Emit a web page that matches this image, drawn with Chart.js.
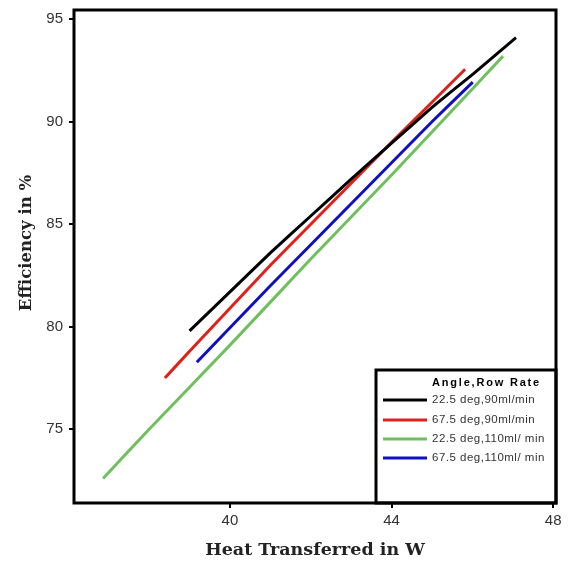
<!DOCTYPE html>
<html>
<head>
<meta charset="utf-8">
<script src="https://cdn.jsdelivr.net/npm/chart.js@4.4.0/dist/chart.umd.min.js"></script>
<style>
  html, body { margin: 0; padding: 0; background: #fff; }
  #wrap { width: 568px; height: 561px; position: relative; }
</style>
</head>
<body>
<div id="wrap"><canvas id="chart" width="568" height="561"></canvas></div>
<script>
// values
var seriesNames = ["22.5 deg,90ml/min", "67.5 deg,90ml/min", "22.5 deg,110ml/ min", "67.5 deg,110ml/ min"];
var seriesColors = ["#000000", "#e0201b", "#6fbf5f", "#1010c0"];

var blackX = [39.0, 40.0, 41.0, 42.0, 43.0, 44.0, 45.0, 46.0, 47.08];
var blackY = [79.8, 81.7, 83.6, 85.4, 87.2, 88.95, 90.7, 92.3, 94.1];

var redX = [38.39, 39.0, 40.0, 41.0, 42.0, 43.0, 44.0, 45.0, 45.82];
var redY = [77.5, 78.8, 80.9, 83.0, 85.0, 87.0, 89.0, 90.95, 92.56];

var greenX = [36.86, 38.0, 40.0, 42.0, 44.0, 46.0, 46.76];
var greenY = [72.6, 75.0, 79.1, 83.3, 87.4, 91.6, 93.2];

var blueX = [39.18, 40.0, 41.0, 42.0, 43.0, 44.0, 45.0, 46.01];
var blueY = [78.27, 79.95, 82.0, 84.0, 86.0, 88.0, 90.0, 91.93];

var xTicks = [40, 44, 48];
var yTicks = [75, 80, 85, 90, 95];

function pts(xs, ys) {
  var out = [];
  for (var i = 0; i < xs.length; i++) out.push({x: xs[i], y: ys[i]});
  return out;
}

var allX = [blackX, redX, greenX, blueX];
var allY = [blackY, redY, greenY, blueY];
var datasets = [];
for (var i = 0; i < seriesNames.length; i++) {
  datasets.push({
    label: seriesNames[i],
    data: pts(allX[i], allY[i]),
    borderColor: seriesColors[i],
    backgroundColor: seriesColors[i],
    borderWidth: 3,
    pointRadius: 0,
    tension: 0.1,
    fill: false
  });
}

// box around the plot, the legend inside it and the y title
var boxPlugin = {
  id: 'boxPlugin',
  afterDraw: function(chart) {
    var ctx = chart.ctx;
    var a = chart.chartArea;
    ctx.save();
    // legend
    var lx = 376, ly = 370, lw = a.right - 376, lh = a.bottom - 370;
    ctx.fillStyle = '#fff';
    ctx.fillRect(lx, ly, lw, lh);
    ctx.strokeStyle = '#000';
    ctx.lineWidth = 3;
    ctx.strokeRect(lx, ly, lw, lh);
    ctx.fillStyle = '#000';
    ctx.font = 'bold 11px "Liberation Sans", Arial, sans-serif';
    ctx.textBaseline = 'middle';
    ctx.textAlign = 'left';
    ctx.letterSpacing = '1.8px';
    ctx.fillText('Angle,Row Rate', 432, 383);
    ctx.letterSpacing = '0.5px';
    ctx.font = '11.5px "Liberation Sans", Arial, sans-serif';
    var rows = [400, 420, 439, 458];
    for (var i = 0; i < seriesNames.length; i++) {
      ctx.strokeStyle = seriesColors[i];
      ctx.lineWidth = 3;
      ctx.beginPath();
      ctx.moveTo(383, rows[i]);
      ctx.lineTo(427, rows[i]);
      ctx.stroke();
      ctx.fillStyle = '#333';
      ctx.fillText(seriesNames[i], 432, rows[i]);
    }
    ctx.letterSpacing = '0px';
    // plot frame
    ctx.strokeStyle = '#000';
    ctx.lineWidth = 3;
    ctx.strokeRect(a.left, a.top, a.right - a.left, a.bottom - a.top);
    // y axis title
    ctx.translate(27, 243);
    ctx.rotate(-Math.PI / 2);
    ctx.textAlign = 'center';
    ctx.textBaseline = 'middle';
    ctx.fillStyle = '#222';
    ctx.font = 'bold 16.5px "DejaVu Serif", "Liberation Serif", serif';
    ctx.fillText('Efficiency in %', 0, 0);
    ctx.restore();
  }
};

var ctx = document.getElementById('chart').getContext('2d');
var myChart = new Chart(ctx, {
  type: 'line',
  data: { datasets: datasets },
  options: {
    responsive: false,
    animation: false,
    layout: { padding: { top: 10, right: 12, left: 18, bottom: 0 } },
    plugins: {
      legend: { display: false },
      tooltip: { enabled: false }
    },
    scales: {
      x: {
        type: 'linear',
        min: 36.14,
        max: 48.07,
        afterBuildTicks: function(s) { s.ticks = xTicks.map(function(v) { return {value: v}; }); },
        afterFit: function(s) { s.height = 58; },
        grid: { drawOnChartArea: false, tickLength: 5, color: '#000', lineWidth: 2 },
        border: { display: false },
        ticks: { color: '#333', font: { size: 15, family: '"Liberation Sans", Arial' }, padding: 4 },
        title: {
          display: true,
          text: 'Heat Transferred in W',
          color: '#222',
          font: { size: 17.5, weight: 'bold', family: '"DejaVu Serif", "Liberation Serif", serif' },
          padding: { top: 0, bottom: 0 }
        }
      },
      y: {
        type: 'linear',
        min: 71.4,
        max: 95.45,
        afterBuildTicks: function(s) { s.ticks = yTicks.map(function(v) { return {value: v}; }); },
        afterFit: function(s) { s.width = 56; s.paddingTop = 0; },
        grid: { drawOnChartArea: false, tickLength: 5, color: '#000', lineWidth: 2 },
        border: { display: false },
        ticks: { color: '#333', font: { size: 15, lineHeight: 1, family: '"Liberation Sans", Arial' }, padding: 6 }
      }
    }
  },
  plugins: [boxPlugin]
});
</script>
</body>
</html>
